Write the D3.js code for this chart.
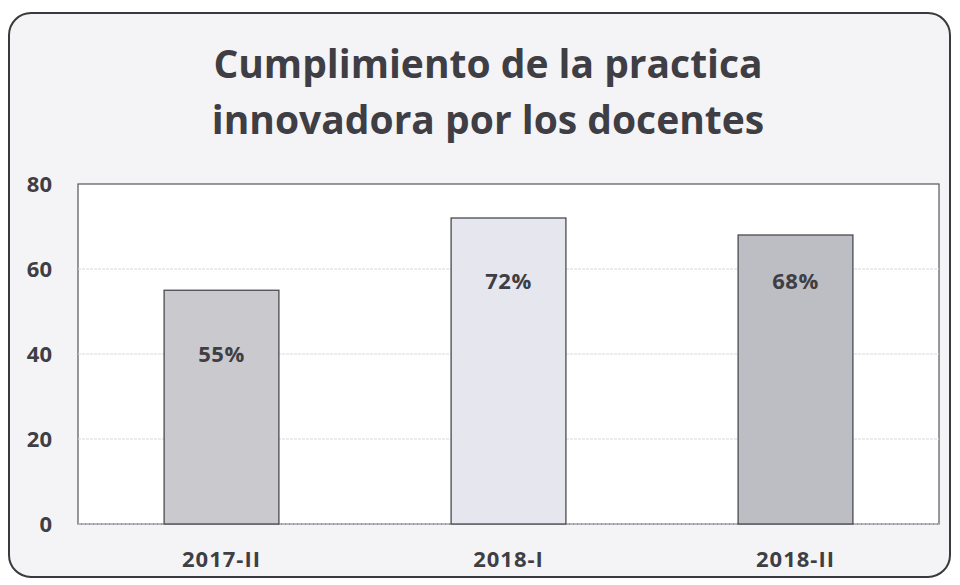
<!DOCTYPE html>
<meta charset="utf-8">
<style>
body { margin: 0; background: #fff; }
text { font-family: 'Open Sans', 'Lato', sans-serif; font-weight: bold; fill: #3e3e44; }
.grid line { stroke: #d8d8dc; stroke-dasharray: 3 1; }
</style>
<body>
<svg width="960" height="585"></svg>
<script src="https://d3js.org/d3.v7.min.js"></script>
<script>
// chart data
var periods = ["2017-II", "2018-I", "2018-II"];
var values = [55, 72, 68];
var labels = ["55%", "72%", "68%"];
var labelAt = [40, 57, 57];        // where the % label sits, in axis units
var barColors = ["#c9c9ce", "#e6e6ee", "#bdbdc4"];
var yTicks = [0, 20, 40, 60, 80];
var titleLines = ["Cumplimiento de la practica", "innovadora por los docentes"];

var svg = d3.select("svg");

// outer frame
svg.append("rect")
    .attr("x", 9).attr("y", 13)
    .attr("width", 941).attr("height", 564)
    .attr("rx", 22)
    .style("fill", "#f4f4f6")
    .style("stroke", "#3a3a3e")
    .style("stroke-width", 2);

var margin = {left: 78, top: 184, right: 21, bottom: 61},
    width = 960 - margin.left - margin.right,
    height = 585 - margin.top - margin.bottom;

var g = svg.append("g").attr("transform", "translate(" + margin.left + "," + margin.top + ")");

var x = d3.scaleBand().domain(periods).range([0, width]).paddingInner(0.6).paddingOuter(0.3);
var y = d3.scaleLinear().domain([0, 80]).range([height, 0]);

// plot area
g.append("rect")
    .attr("width", width).attr("height", height)
    .style("fill", "#fff")
    .style("stroke", "#55555a")
    .style("stroke-width", 1.2);

g.append("g").attr("class", "grid")
  .selectAll("line")
  .data(yTicks.slice(0, -1))
  .enter().append("line")
    .attr("x1", 0).attr("x2", width)
    .attr("y1", function(d) { return y(d); })
    .attr("y2", function(d) { return y(d); });

g.selectAll(".bar")
    .data(values)
  .enter().append("rect")
    .attr("class", "bar")
    .attr("x", function(d, i) { return x(periods[i]); })
    .attr("y", function(d) { return y(d); })
    .attr("width", x.bandwidth())
    .attr("height", function(d) { return height - y(d); })
    .style("fill", function(d, i) { return barColors[i]; })
    .style("stroke", "#4a4a50")
    .style("stroke-width", 1.3);

g.selectAll(".lbl")
    .data(labels)
  .enter().append("text")
    .attr("class", "lbl")
    .attr("x", function(d, i) { return x(periods[i]) + x.bandwidth() / 2; })
    .attr("y", function(d, i) { return y(labelAt[i]); })
    .attr("dy", "0.35em")
    .attr("text-anchor", "middle")
    .style("font-size", "22px")
    .style("letter-spacing", "0.5px")
    .text(function(d) { return d; });

// axes
var yAxis = g.append("g").call(d3.axisLeft(y).tickValues(yTicks).tickSize(0).tickPadding(26));
yAxis.select(".domain").remove();
yAxis.selectAll("text").style("font-size", "22px").style("fill", "#3e3e44");

var xAxis = g.append("g")
    .attr("transform", "translate(0," + height + ")")
    .call(d3.axisBottom(x).tickSize(0).tickPadding(27));
xAxis.select(".domain").remove();
xAxis.selectAll("text")
    .style("font-size", "22px")
    .style("letter-spacing", "1px")
    .style("fill", "#3e3e44");

// title
svg.append("g").selectAll("text")
    .data(titleLines)
  .enter().append("text")
    .attr("x", 488)
    .attr("y", function(d, i) { return 78 + i * 56; })
    .attr("text-anchor", "middle")
    .style("font-size", "39px")
    .text(function(d) { return d; });
</script>
</body>
